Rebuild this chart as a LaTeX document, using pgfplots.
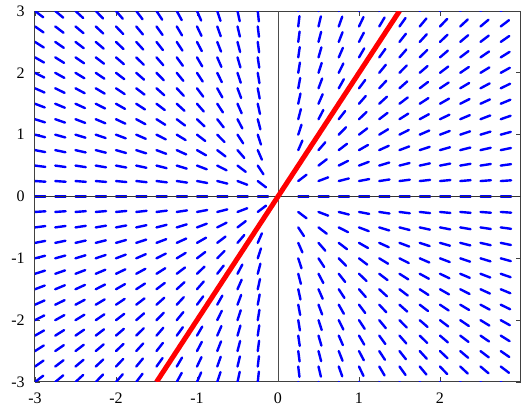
\documentclass[border=0pt]{standalone}
\usepackage{fontspec}
\setmainfont{Liberation Serif}
\usepackage{pgfplots}
\pgfplotsset{compat=1.18}
\usepackage{pgfplotstable}

% direction field of y' = y/x: grid point (x,y) and direction (a,b), a>0
\pgfplotstableread{
x y a b
-3 -3 12 12
-3 -2.75 12 11
-3 -2.5 12 10
-3 -2.25 12 9
-3 -2 12 8
-3 -1.75 12 7
-3 -1.5 12 6
-3 -1.25 12 5
-3 -1 12 4
-3 -0.75 12 3
-3 -0.5 12 2
-3 -0.25 12 1
-3 0 12 0
-3 0.25 12 -1
-3 0.5 12 -2
-3 0.75 12 -3
-3 1 12 -4
-3 1.25 12 -5
-3 1.5 12 -6
-3 1.75 12 -7
-3 2 12 -8
-3 2.25 12 -9
-3 2.5 12 -10
-3 2.75 12 -11
-3 3 12 -12
-2.75 -3 11 12
-2.75 -2.75 11 11
-2.75 -2.5 11 10
-2.75 -2.25 11 9
-2.75 -2 11 8
-2.75 -1.75 11 7
-2.75 -1.5 11 6
-2.75 -1.25 11 5
-2.75 -1 11 4
-2.75 -0.75 11 3
-2.75 -0.5 11 2
-2.75 -0.25 11 1
-2.75 0 11 0
-2.75 0.25 11 -1
-2.75 0.5 11 -2
-2.75 0.75 11 -3
-2.75 1 11 -4
-2.75 1.25 11 -5
-2.75 1.5 11 -6
-2.75 1.75 11 -7
-2.75 2 11 -8
-2.75 2.25 11 -9
-2.75 2.5 11 -10
-2.75 2.75 11 -11
-2.75 3 11 -12
-2.5 -3 10 12
-2.5 -2.75 10 11
-2.5 -2.5 10 10
-2.5 -2.25 10 9
-2.5 -2 10 8
-2.5 -1.75 10 7
-2.5 -1.5 10 6
-2.5 -1.25 10 5
-2.5 -1 10 4
-2.5 -0.75 10 3
-2.5 -0.5 10 2
-2.5 -0.25 10 1
-2.5 0 10 0
-2.5 0.25 10 -1
-2.5 0.5 10 -2
-2.5 0.75 10 -3
-2.5 1 10 -4
-2.5 1.25 10 -5
-2.5 1.5 10 -6
-2.5 1.75 10 -7
-2.5 2 10 -8
-2.5 2.25 10 -9
-2.5 2.5 10 -10
-2.5 2.75 10 -11
-2.5 3 10 -12
-2.25 -3 9 12
-2.25 -2.75 9 11
-2.25 -2.5 9 10
-2.25 -2.25 9 9
-2.25 -2 9 8
-2.25 -1.75 9 7
-2.25 -1.5 9 6
-2.25 -1.25 9 5
-2.25 -1 9 4
-2.25 -0.75 9 3
-2.25 -0.5 9 2
-2.25 -0.25 9 1
-2.25 0 9 0
-2.25 0.25 9 -1
-2.25 0.5 9 -2
-2.25 0.75 9 -3
-2.25 1 9 -4
-2.25 1.25 9 -5
-2.25 1.5 9 -6
-2.25 1.75 9 -7
-2.25 2 9 -8
-2.25 2.25 9 -9
-2.25 2.5 9 -10
-2.25 2.75 9 -11
-2.25 3 9 -12
-2 -3 8 12
-2 -2.75 8 11
-2 -2.5 8 10
-2 -2.25 8 9
-2 -2 8 8
-2 -1.75 8 7
-2 -1.5 8 6
-2 -1.25 8 5
-2 -1 8 4
-2 -0.75 8 3
-2 -0.5 8 2
-2 -0.25 8 1
-2 0 8 0
-2 0.25 8 -1
-2 0.5 8 -2
-2 0.75 8 -3
-2 1 8 -4
-2 1.25 8 -5
-2 1.5 8 -6
-2 1.75 8 -7
-2 2 8 -8
-2 2.25 8 -9
-2 2.5 8 -10
-2 2.75 8 -11
-2 3 8 -12
-1.75 -3 7 12
-1.75 -2.75 7 11
-1.75 -2.5 7 10
-1.75 -2.25 7 9
-1.75 -2 7 8
-1.75 -1.75 7 7
-1.75 -1.5 7 6
-1.75 -1.25 7 5
-1.75 -1 7 4
-1.75 -0.75 7 3
-1.75 -0.5 7 2
-1.75 -0.25 7 1
-1.75 0 7 0
-1.75 0.25 7 -1
-1.75 0.5 7 -2
-1.75 0.75 7 -3
-1.75 1 7 -4
-1.75 1.25 7 -5
-1.75 1.5 7 -6
-1.75 1.75 7 -7
-1.75 2 7 -8
-1.75 2.25 7 -9
-1.75 2.5 7 -10
-1.75 2.75 7 -11
-1.75 3 7 -12
-1.5 -3 6 12
-1.5 -2.75 6 11
-1.5 -2.5 6 10
-1.5 -2.25 6 9
-1.5 -2 6 8
-1.5 -1.75 6 7
-1.5 -1.5 6 6
-1.5 -1.25 6 5
-1.5 -1 6 4
-1.5 -0.75 6 3
-1.5 -0.5 6 2
-1.5 -0.25 6 1
-1.5 0 6 0
-1.5 0.25 6 -1
-1.5 0.5 6 -2
-1.5 0.75 6 -3
-1.5 1 6 -4
-1.5 1.25 6 -5
-1.5 1.5 6 -6
-1.5 1.75 6 -7
-1.5 2 6 -8
-1.5 2.25 6 -9
-1.5 2.5 6 -10
-1.5 2.75 6 -11
-1.5 3 6 -12
-1.25 -3 5 12
-1.25 -2.75 5 11
-1.25 -2.5 5 10
-1.25 -2.25 5 9
-1.25 -2 5 8
-1.25 -1.75 5 7
-1.25 -1.5 5 6
-1.25 -1.25 5 5
-1.25 -1 5 4
-1.25 -0.75 5 3
-1.25 -0.5 5 2
-1.25 -0.25 5 1
-1.25 0 5 0
-1.25 0.25 5 -1
-1.25 0.5 5 -2
-1.25 0.75 5 -3
-1.25 1 5 -4
-1.25 1.25 5 -5
-1.25 1.5 5 -6
-1.25 1.75 5 -7
-1.25 2 5 -8
-1.25 2.25 5 -9
-1.25 2.5 5 -10
-1.25 2.75 5 -11
-1.25 3 5 -12
-1 -3 4 12
-1 -2.75 4 11
-1 -2.5 4 10
-1 -2.25 4 9
-1 -2 4 8
-1 -1.75 4 7
-1 -1.5 4 6
-1 -1.25 4 5
-1 -1 4 4
-1 -0.75 4 3
-1 -0.5 4 2
-1 -0.25 4 1
-1 0 4 0
-1 0.25 4 -1
-1 0.5 4 -2
-1 0.75 4 -3
-1 1 4 -4
-1 1.25 4 -5
-1 1.5 4 -6
-1 1.75 4 -7
-1 2 4 -8
-1 2.25 4 -9
-1 2.5 4 -10
-1 2.75 4 -11
-1 3 4 -12
-0.75 -3 3 12
-0.75 -2.75 3 11
-0.75 -2.5 3 10
-0.75 -2.25 3 9
-0.75 -2 3 8
-0.75 -1.75 3 7
-0.75 -1.5 3 6
-0.75 -1.25 3 5
-0.75 -1 3 4
-0.75 -0.75 3 3
-0.75 -0.5 3 2
-0.75 -0.25 3 1
-0.75 0 3 0
-0.75 0.25 3 -1
-0.75 0.5 3 -2
-0.75 0.75 3 -3
-0.75 1 3 -4
-0.75 1.25 3 -5
-0.75 1.5 3 -6
-0.75 1.75 3 -7
-0.75 2 3 -8
-0.75 2.25 3 -9
-0.75 2.5 3 -10
-0.75 2.75 3 -11
-0.75 3 3 -12
-0.5 -3 2 12
-0.5 -2.75 2 11
-0.5 -2.5 2 10
-0.5 -2.25 2 9
-0.5 -2 2 8
-0.5 -1.75 2 7
-0.5 -1.5 2 6
-0.5 -1.25 2 5
-0.5 -1 2 4
-0.5 -0.75 2 3
-0.5 -0.5 2 2
-0.5 -0.25 2 1
-0.5 0 2 0
-0.5 0.25 2 -1
-0.5 0.5 2 -2
-0.5 0.75 2 -3
-0.5 1 2 -4
-0.5 1.25 2 -5
-0.5 1.5 2 -6
-0.5 1.75 2 -7
-0.5 2 2 -8
-0.5 2.25 2 -9
-0.5 2.5 2 -10
-0.5 2.75 2 -11
-0.5 3 2 -12
-0.25 -3 1 12
-0.25 -2.75 1 11
-0.25 -2.5 1 10
-0.25 -2.25 1 9
-0.25 -2 1 8
-0.25 -1.75 1 7
-0.25 -1.5 1 6
-0.25 -1.25 1 5
-0.25 -1 1 4
-0.25 -0.75 1 3
-0.25 -0.5 1 2
-0.25 -0.25 1 1
-0.25 0 1 0
-0.25 0.25 1 -1
-0.25 0.5 1 -2
-0.25 0.75 1 -3
-0.25 1 1 -4
-0.25 1.25 1 -5
-0.25 1.5 1 -6
-0.25 1.75 1 -7
-0.25 2 1 -8
-0.25 2.25 1 -9
-0.25 2.5 1 -10
-0.25 2.75 1 -11
-0.25 3 1 -12
0.25 -3 1 -12
0.25 -2.75 1 -11
0.25 -2.5 1 -10
0.25 -2.25 1 -9
0.25 -2 1 -8
0.25 -1.75 1 -7
0.25 -1.5 1 -6
0.25 -1.25 1 -5
0.25 -1 1 -4
0.25 -0.75 1 -3
0.25 -0.5 1 -2
0.25 -0.25 1 -1
0.25 0 1 0
0.25 0.25 1 1
0.25 0.5 1 2
0.25 0.75 1 3
0.25 1 1 4
0.25 1.25 1 5
0.25 1.5 1 6
0.25 1.75 1 7
0.25 2 1 8
0.25 2.25 1 9
0.25 2.5 1 10
0.25 2.75 1 11
0.25 3 1 12
0.5 -3 2 -12
0.5 -2.75 2 -11
0.5 -2.5 2 -10
0.5 -2.25 2 -9
0.5 -2 2 -8
0.5 -1.75 2 -7
0.5 -1.5 2 -6
0.5 -1.25 2 -5
0.5 -1 2 -4
0.5 -0.75 2 -3
0.5 -0.5 2 -2
0.5 -0.25 2 -1
0.5 0 2 0
0.5 0.25 2 1
0.5 0.5 2 2
0.5 0.75 2 3
0.5 1 2 4
0.5 1.25 2 5
0.5 1.5 2 6
0.5 1.75 2 7
0.5 2 2 8
0.5 2.25 2 9
0.5 2.5 2 10
0.5 2.75 2 11
0.5 3 2 12
0.75 -3 3 -12
0.75 -2.75 3 -11
0.75 -2.5 3 -10
0.75 -2.25 3 -9
0.75 -2 3 -8
0.75 -1.75 3 -7
0.75 -1.5 3 -6
0.75 -1.25 3 -5
0.75 -1 3 -4
0.75 -0.75 3 -3
0.75 -0.5 3 -2
0.75 -0.25 3 -1
0.75 0 3 0
0.75 0.25 3 1
0.75 0.5 3 2
0.75 0.75 3 3
0.75 1 3 4
0.75 1.25 3 5
0.75 1.5 3 6
0.75 1.75 3 7
0.75 2 3 8
0.75 2.25 3 9
0.75 2.5 3 10
0.75 2.75 3 11
0.75 3 3 12
1 -3 4 -12
1 -2.75 4 -11
1 -2.5 4 -10
1 -2.25 4 -9
1 -2 4 -8
1 -1.75 4 -7
1 -1.5 4 -6
1 -1.25 4 -5
1 -1 4 -4
1 -0.75 4 -3
1 -0.5 4 -2
1 -0.25 4 -1
1 0 4 0
1 0.25 4 1
1 0.5 4 2
1 0.75 4 3
1 1 4 4
1 1.25 4 5
1 1.5 4 6
1 1.75 4 7
1 2 4 8
1 2.25 4 9
1 2.5 4 10
1 2.75 4 11
1 3 4 12
1.25 -3 5 -12
1.25 -2.75 5 -11
1.25 -2.5 5 -10
1.25 -2.25 5 -9
1.25 -2 5 -8
1.25 -1.75 5 -7
1.25 -1.5 5 -6
1.25 -1.25 5 -5
1.25 -1 5 -4
1.25 -0.75 5 -3
1.25 -0.5 5 -2
1.25 -0.25 5 -1
1.25 0 5 0
1.25 0.25 5 1
1.25 0.5 5 2
1.25 0.75 5 3
1.25 1 5 4
1.25 1.25 5 5
1.25 1.5 5 6
1.25 1.75 5 7
1.25 2 5 8
1.25 2.25 5 9
1.25 2.5 5 10
1.25 2.75 5 11
1.25 3 5 12
1.5 -3 6 -12
1.5 -2.75 6 -11
1.5 -2.5 6 -10
1.5 -2.25 6 -9
1.5 -2 6 -8
1.5 -1.75 6 -7
1.5 -1.5 6 -6
1.5 -1.25 6 -5
1.5 -1 6 -4
1.5 -0.75 6 -3
1.5 -0.5 6 -2
1.5 -0.25 6 -1
1.5 0 6 0
1.5 0.25 6 1
1.5 0.5 6 2
1.5 0.75 6 3
1.5 1 6 4
1.5 1.25 6 5
1.5 1.5 6 6
1.5 1.75 6 7
1.5 2 6 8
1.5 2.25 6 9
1.5 2.5 6 10
1.5 2.75 6 11
1.5 3 6 12
1.75 -3 7 -12
1.75 -2.75 7 -11
1.75 -2.5 7 -10
1.75 -2.25 7 -9
1.75 -2 7 -8
1.75 -1.75 7 -7
1.75 -1.5 7 -6
1.75 -1.25 7 -5
1.75 -1 7 -4
1.75 -0.75 7 -3
1.75 -0.5 7 -2
1.75 -0.25 7 -1
1.75 0 7 0
1.75 0.25 7 1
1.75 0.5 7 2
1.75 0.75 7 3
1.75 1 7 4
1.75 1.25 7 5
1.75 1.5 7 6
1.75 1.75 7 7
1.75 2 7 8
1.75 2.25 7 9
1.75 2.5 7 10
1.75 2.75 7 11
1.75 3 7 12
2 -3 8 -12
2 -2.75 8 -11
2 -2.5 8 -10
2 -2.25 8 -9
2 -2 8 -8
2 -1.75 8 -7
2 -1.5 8 -6
2 -1.25 8 -5
2 -1 8 -4
2 -0.75 8 -3
2 -0.5 8 -2
2 -0.25 8 -1
2 0 8 0
2 0.25 8 1
2 0.5 8 2
2 0.75 8 3
2 1 8 4
2 1.25 8 5
2 1.5 8 6
2 1.75 8 7
2 2 8 8
2 2.25 8 9
2 2.5 8 10
2 2.75 8 11
2 3 8 12
2.25 -3 9 -12
2.25 -2.75 9 -11
2.25 -2.5 9 -10
2.25 -2.25 9 -9
2.25 -2 9 -8
2.25 -1.75 9 -7
2.25 -1.5 9 -6
2.25 -1.25 9 -5
2.25 -1 9 -4
2.25 -0.75 9 -3
2.25 -0.5 9 -2
2.25 -0.25 9 -1
2.25 0 9 0
2.25 0.25 9 1
2.25 0.5 9 2
2.25 0.75 9 3
2.25 1 9 4
2.25 1.25 9 5
2.25 1.5 9 6
2.25 1.75 9 7
2.25 2 9 8
2.25 2.25 9 9
2.25 2.5 9 10
2.25 2.75 9 11
2.25 3 9 12
2.5 -3 10 -12
2.5 -2.75 10 -11
2.5 -2.5 10 -10
2.5 -2.25 10 -9
2.5 -2 10 -8
2.5 -1.75 10 -7
2.5 -1.5 10 -6
2.5 -1.25 10 -5
2.5 -1 10 -4
2.5 -0.75 10 -3
2.5 -0.5 10 -2
2.5 -0.25 10 -1
2.5 0 10 0
2.5 0.25 10 1
2.5 0.5 10 2
2.5 0.75 10 3
2.5 1 10 4
2.5 1.25 10 5
2.5 1.5 10 6
2.5 1.75 10 7
2.5 2 10 8
2.5 2.25 10 9
2.5 2.5 10 10
2.5 2.75 10 11
2.5 3 10 12
2.75 -3 11 -12
2.75 -2.75 11 -11
2.75 -2.5 11 -10
2.75 -2.25 11 -9
2.75 -2 11 -8
2.75 -1.75 11 -7
2.75 -1.5 11 -6
2.75 -1.25 11 -5
2.75 -1 11 -4
2.75 -0.75 11 -3
2.75 -0.5 11 -2
2.75 -0.25 11 -1
2.75 0 11 0
2.75 0.25 11 1
2.75 0.5 11 2
2.75 0.75 11 3
2.75 1 11 4
2.75 1.25 11 5
2.75 1.5 11 6
2.75 1.75 11 7
2.75 2 11 8
2.75 2.25 11 9
2.75 2.5 11 10
2.75 2.75 11 11
2.75 3 11 12
}\fieldtable

\begin{document}
\begin{tikzpicture}
\begin{axis}[
  scale only axis,
  width=243pt, height=185.5pt,
  xmin=-3, xmax=3, ymin=-3, ymax=3,
  xtick={-3,-2,-1,0,1,2}, xticklabels={-3,-2,-1,0,1,2},
  ytick={-3,-2,-1,0,1,2,3}, yticklabels={-3,-2,-1,0,1,2,3},
  tick align=inside, major tick length=2.5pt,
  tick style={black!75, line width=0.4pt},
  axis line style={black!75, line width=0.5pt},
  ticklabel style={font=\fontsize{8}{9}\selectfont},
  xticklabel style={anchor=base, inner sep=0pt, yshift=-10.8pt},
  yticklabel style={anchor=east, inner sep=0pt, xshift=-5pt},
  clip=true,
]
\addplot[blue, line width=1.2pt, line cap=round,
  quiver={u={\thisrow{a}*0.52/veclen(4.05*\thisrow{a},3.092*\thisrow{b})},
          v={\thisrow{b}*0.52/veclen(4.05*\thisrow{a},3.092*\thisrow{b})}}]
  table[x=x, y=y] {\fieldtable};
\addplot[black!80, line width=0.45pt] coordinates {(-3,0) (3,0)};
\addplot[black!70, line width=0.45pt] coordinates {(0,-3) (0,3)};
\addplot[red, line width=2.5pt] coordinates {(-1.5,-3) (1.5,3)};
\end{axis}
\pgfresetboundingbox
\path ([shift={(-17.5pt,-12pt)}]current axis.south west) rectangle ([shift={(0pt,5.5pt)}]current axis.north east);
\end{tikzpicture}
\end{document}
